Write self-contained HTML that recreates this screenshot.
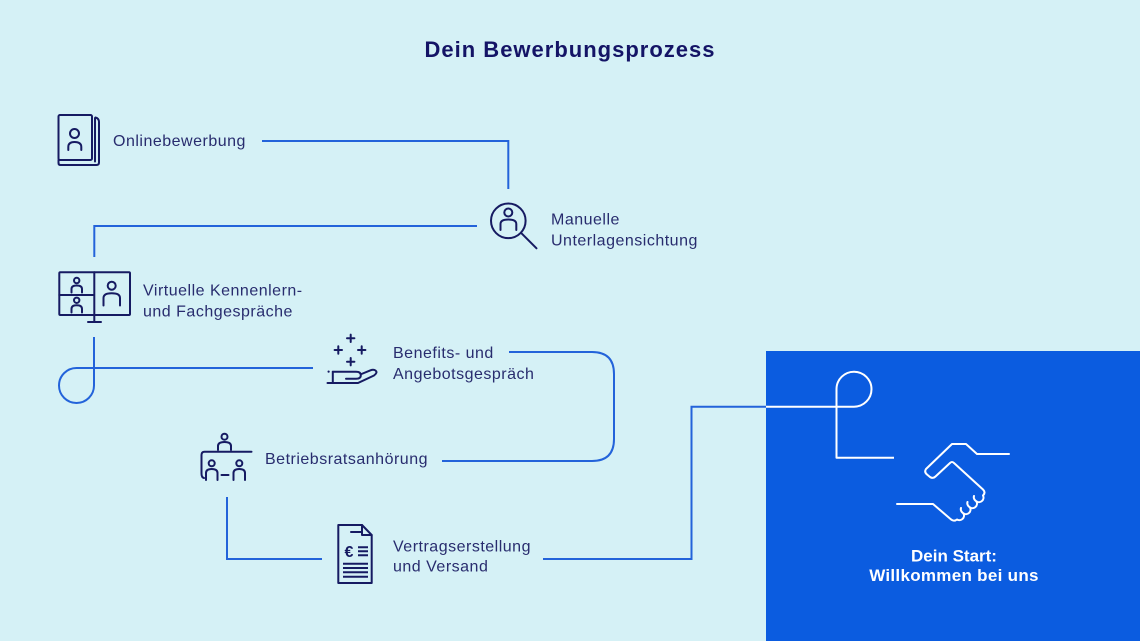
<!DOCTYPE html>
<html>
<head>
<meta charset="utf-8">
<style>
  html,body{margin:0;padding:0;background:#d5f1f6;}
  body{width:1140px;height:641px;overflow:hidden;}
  svg{display:block;}
  .t{font-family:"Liberation Sans",sans-serif;font-size:16px;fill:#282c6e;letter-spacing:0.5px;}
  .ic{fill:none;stroke:#161b62;stroke-width:2;stroke-linecap:round;stroke-linejoin:round;}
  .ln{fill:none;stroke:#2363da;stroke-width:2;}
  .wl{fill:none;stroke:#ffffff;stroke-width:2;stroke-linecap:round;stroke-linejoin:round;}
</style>
</head>
<body>
<svg width="1140" height="641" viewBox="0 0 1140 641" xmlns="http://www.w3.org/2000/svg">
  <rect x="0" y="0" width="1140" height="641" fill="#d5f1f6"/>
  <!-- blue box -->
  <rect x="766" y="351" width="374" height="290" fill="#0b5ce0"/>

  <!-- Title -->
  <text x="570" y="57" text-anchor="middle" style="font-family:'Liberation Sans',sans-serif;font-weight:bold;font-size:22px;letter-spacing:1px;fill:#141466;">Dein Bewerbungsprozess</text>

  <!-- connectors -->
  <path class="ln" d="M262,141 H508.3 V189"/>
  <path class="ln" d="M477,226 H94.3 V257"/>
  <path class="ln" d="M94,337 V385.5 A17.5,17.5 0 1 1 76.5,368 H313"/>
  <path class="ln" d="M509,352 H592 Q614,352 614,374 V439 Q614,461 592,461 H442"/>
  <path class="ln" d="M227,497 V559 H322"/>
  <path class="ln" d="M543,559 H691.5 V406.7 H766"/>
  <!-- white connector inside box -->
  <path class="wl" style="stroke-linecap:butt" d="M766,406.7 H854 A17.5,17.5 0 1 0 836.5,389 V457.7 H894"/>

  <!-- Onlinebewerbung book icon -->
  <rect class="ic" x="58.5" y="115" width="33.5" height="45" rx="1.5"/>
  <path class="ic" d="M58.5,160 V163 Q58.5,165 60.5,165 H96.5 Q99,165 99,162.5 V122 Q99,118.5 95.5,117.5"/>
  <path class="ic" d="M95,118 V161.5"/>
  <circle class="ic" cx="74.5" cy="133.5" r="4.5"/>
  <path class="ic" d="M68.3,150 V147 Q68.3,142 74.5,142 Q81.3,142 81.3,147 V150"/>
  <text class="t" x="113" y="146">Onlinebewerbung</text>

  <!-- Magnifier icon -->
  <circle class="ic" cx="508.3" cy="220.8" r="17.3"/>
  <path class="ic" d="M521.5,233.3 L536.5,248.3"/>
  <circle class="ic" cx="508.3" cy="212.5" r="4"/>
  <path class="ic" d="M500.5,230 V224 Q500.5,219.5 508.3,219.5 Q516.3,219.5 516.3,224 V230"/>
  <text class="t" x="551" y="224.5">Manuelle</text>
  <text class="t" x="551" y="245.5">Unterlagensichtung</text>

  <!-- Monitor icon -->
  <rect class="ic" x="59.3" y="272.3" width="70.7" height="42.7" rx="1"/>
  <path class="ic" d="M94.3,272.3 V315 M59.3,295 H94.3 M94.3,315 V322 M88,322 H101"/>
  <circle class="ic" cx="76.7" cy="280.5" r="2.7"/>
  <path class="ic" d="M71.5,292.5 V289 Q71.5,285.5 76.7,285.5 Q82,285.5 82,289 V292.5"/>
  <circle class="ic" cx="76.7" cy="300.3" r="2.7"/>
  <path class="ic" d="M71.5,312.5 V309 Q71.5,305.3 76.7,305.3 Q82,305.3 82,309 V312.5"/>
  <circle class="ic" cx="111.7" cy="285.7" r="4"/>
  <path class="ic" d="M103.5,305.5 V298 Q103.5,293.3 111.7,293.3 Q120,293.3 120,298 V305.5"/>
  <text class="t" x="143" y="295.5">Virtuelle Kennenlern-</text>
  <text class="t" x="143" y="316.5">und Fachgespräche</text>

  <!-- Benefits icon -->
  <path class="ic" d="M350.7,334.6 V342 M347,338.3 H354.4"/>
  <path class="ic" d="M338.3,346.3 V353.7 M334.6,350 H342"/>
  <path class="ic" d="M361.7,346.3 V353.7 M358,350 H365.4"/>
  <path class="ic" d="M350.7,358 V365.4 M347,361.7 H354.4"/>
  <circle cx="328.6" cy="371.6" r="1.1" fill="#161b62"/>
  <path class="ic" d="M327.5,383 H358 L374,375.5 Q378,372.5 375.5,370.5 Q373.5,369 370.5,370.3 L361.5,374"/>
  <path class="ic" d="M332.8,371.7 V383"/>
  <path class="ic" d="M332.8,371.7 H356 Q360.8,371.7 360.8,375.3 Q360.8,378.8 356,378.8 H346"/>
  <text class="t" x="393" y="358">Benefits- und</text>
  <text class="t" x="393" y="379">Angebotsgespräch</text>

  <!-- Betriebsrat icon -->
  <circle class="ic" cx="224.5" cy="436.7" r="3"/>
  <path class="ic" d="M218,450 V446 Q218,442 224.5,442 Q231,442 231,446 V450"/>
  <path class="ic" d="M251.5,451.7 H204.5 Q201.5,451.7 201.5,455 V473.5 Q201.5,477.5 204,478"/>
  <circle class="ic" cx="211.7" cy="463.3" r="3"/>
  <path class="ic" d="M206,480 V473 Q206,469 211.7,469 Q217.5,469 217.5,473 V480"/>
  <circle class="ic" cx="239.3" cy="463.3" r="3"/>
  <path class="ic" d="M233.5,480 V473 Q233.5,469 239.3,469 Q245,469 245,473 V480"/>
  <path class="ic" d="M221.5,475 H228.5"/>
  <text class="t" x="265" y="464">Betriebsratsanhörung</text>

  <!-- Contract icon -->
  <path class="ic" d="M338.3,525 H362 L371.7,535 V583 H338.3 Z"/>
  <path class="ic" d="M362,525 V535 H371.7"/>
  <path class="ic" d="M351,532 H361"/>
  <text x="349" y="557" text-anchor="middle" style="font-family:'Liberation Sans',sans-serif;font-weight:bold;font-size:16px;fill:#161b62;">€</text>
  <path class="ic" style="stroke-linecap:butt" d="M358,547.3 H368 M358,551.3 H368 M358,555.3 H368"/>
  <path class="ic" style="stroke-linecap:butt" d="M343,563.7 H368 M343,568 H368 M343,572.3 H368 M343,576.8 H368"/>
  <text class="t" x="393" y="551.5">Vertragserstellung</text>
  <text class="t" x="393" y="571.5">und Versand</text>

  <!-- Handshake -->
  <path class="wl" d="M1009,454 H977 L966,444 H952 L926,469 Q924,472 927,474.5 L930,477 Q933,479 935.5,476.5 L950,463 Q952,461 954,463 L983,489.5 Q986,492.5 983,495.5 A4.6,4.6 0 0 1 976.5,501.5 A4.6,4.6 0 0 1 970,507.5 A4.6,4.6 0 0 1 963.5,513.5 A4.6,4.6 0 0 1 957,519.5 Q954,522 950.5,519 L933,504 H897"/>
  <path class="wl" d="M976.5,501.5 Q973,499 974,496 M970,507.5 Q966.5,505 967.5,502 M963.5,513.5 Q960,511 961,508"/>

  <!-- Box text -->
  <text x="954" y="561.5" text-anchor="middle" style="font-family:'Liberation Sans',sans-serif;font-weight:bold;font-size:17px;fill:#ffffff;">Dein Start:</text>
  <text x="954" y="581" text-anchor="middle" style="font-family:'Liberation Sans',sans-serif;font-weight:bold;font-size:17px;letter-spacing:0.3px;fill:#ffffff;">Willkommen bei uns</text>
</svg>
</body>
</html>
